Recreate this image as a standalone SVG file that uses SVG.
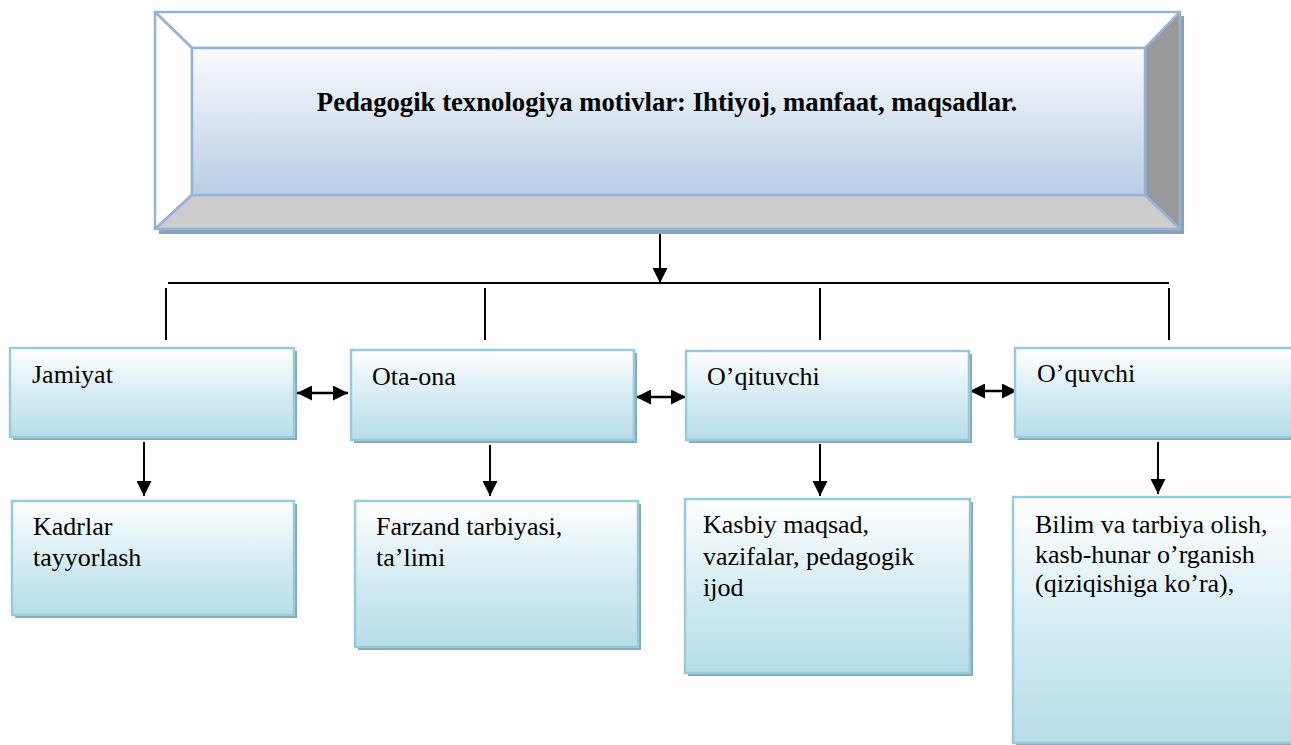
<svg xmlns="http://www.w3.org/2000/svg" width="1291" height="745" viewBox="0 0 1291 745">
<style>
.box{fill:url(#gb);stroke:#93cddd;stroke-width:2.5}
.sh{fill:#8fa3ad}
.t{font-family:"Liberation Serif","Times New Roman",serif;font-size:26px;fill:#000}
.title{font-family:"Liberation Serif","Times New Roman",serif;font-size:26.7px;font-weight:bold;fill:#000}
.ln{stroke:#000;stroke-width:2;fill:none}
.dbl{stroke:#000;stroke-width:2.6;fill:none}
.bev{stroke:#95b3d7;stroke-width:2.5;stroke-linejoin:round}
</style>
<defs>
<linearGradient id="gb" x1="0" y1="0" x2="0" y2="1">
<stop offset="0" stop-color="#ffffff"/>
<stop offset="0.55" stop-color="#d3ebf1"/>
<stop offset="1" stop-color="#b7dde8"/>
</linearGradient>
<linearGradient id="gt" x1="0" y1="0" x2="0" y2="1">
<stop offset="0" stop-color="#fafbfd"/>
<stop offset="1" stop-color="#b9cde5"/>
</linearGradient>
<marker id="ah" viewBox="0 0 10 10" refX="10" refY="5" markerWidth="15" markerHeight="15" markerUnits="userSpaceOnUse" orient="auto-start-reverse">
<path d="M0,0 L10,5 L0,10 z" fill="#000"/>
</marker>
<marker id="ah2" viewBox="0 0 10 10" refX="10" refY="5" markerWidth="15" markerHeight="15" markerUnits="userSpaceOnUse" orient="auto-start-reverse">
<path d="M0,0 L10,5 L0,10 z" fill="#000"/>
</marker>
</defs>
<rect width="1291" height="745" fill="#fff"/>

<g id="title-node">
<rect x="159" y="16" width="1025" height="218" fill="#8d9fb3"/>
<polygon class="bev" points="155,12 1180,12 1145,48 192,48" fill="#fff"/>
<polygon class="bev" points="155,12 192,48 192,195 155,229" fill="#fff"/>
<polygon class="bev" points="1180,12 1180,229 1145,195 1145,48" fill="#999"/>
<polygon class="bev" points="155,229 1180,229 1145,195 192,195" fill="#ccc"/>
<rect class="bev" x="192" y="48" width="953" height="147" fill="url(#gt)"/>
<text class="title" x="667" y="111" text-anchor="middle">Pedagogik texnologiya motivlar: Ihtiyoj, manfaat, maqsadlar.</text>
</g>

<g id="connectors">
<line class="ln" x1="660" y1="234" x2="660" y2="283" marker-end="url(#ah)"/>
<line class="ln" x1="168" y1="283" x2="1169" y2="283"/>
<line class="ln" x1="166" y1="288" x2="166" y2="340"/>
<line class="ln" x1="485" y1="288" x2="485" y2="340"/>
<line class="ln" x1="820" y1="288" x2="820" y2="340"/>
<line class="ln" x1="1169" y1="288" x2="1169" y2="340"/>
<line class="dbl" x1="297" y1="393" x2="348" y2="393" marker-start="url(#ah2)" marker-end="url(#ah2)"/>
<line class="dbl" x1="636" y1="397" x2="686" y2="397" marker-start="url(#ah2)" marker-end="url(#ah2)"/>
<line class="dbl" x1="970" y1="391" x2="1017" y2="391" marker-start="url(#ah2)" marker-end="url(#ah2)"/>
<line class="ln" x1="144" y1="442" x2="144" y2="496" marker-end="url(#ah)"/>
<line class="ln" x1="490" y1="445" x2="490" y2="496" marker-end="url(#ah)"/>
<line class="ln" x1="820" y1="444" x2="820" y2="496" marker-end="url(#ah)"/>
<line class="ln" x1="1158" y1="442" x2="1158" y2="494" marker-end="url(#ah)"/>
</g>

<g id="jamiyat">
<rect class="sh" x="13" y="351" width="284" height="89"/>
<rect class="box" x="10" y="348" width="284" height="89"/>
<text class="t" x="32" y="383">Jamiyat</text>
</g>
<g id="ota-ona">
<rect class="sh" x="354" y="353" width="283" height="90"/>
<rect class="box" x="351" y="350" width="283" height="90"/>
<text class="t" x="372" y="385">Ota-ona</text>
</g>
<g id="oqituvchi">
<rect class="sh" x="689" y="354" width="283" height="89"/>
<rect class="box" x="686" y="351" width="283" height="89"/>
<text class="t" x="707" y="385">O’qituvchi</text>
</g>
<g id="oquvchi">
<rect class="sh" x="1018" y="351" width="290" height="89"/>
<rect class="box" x="1015" y="348" width="290" height="89"/>
<text class="t" x="1037" y="382">O’quvchi</text>
</g>

<g id="kadrlar">
<rect class="sh" x="15" y="504" width="282" height="114"/>
<rect class="box" x="12" y="501" width="282" height="114"/>
<text class="t" x="33" y="535">Kadrlar</text>
<text class="t" x="33" y="566">tayyorlash</text>
</g>
<g id="farzand">
<rect class="sh" x="358" y="504" width="283" height="146"/>
<rect class="box" x="355" y="501" width="283" height="146"/>
<text class="t" x="376" y="535">Farzand tarbiyasi,</text>
<text class="t" x="376" y="566">ta’limi</text>
</g>
<g id="kasbiy">
<rect class="sh" x="688" y="502" width="285" height="174"/>
<rect class="box" x="685" y="499" width="285" height="174"/>
<text class="t" x="703" y="533">Kasbiy maqsad,</text>
<text class="t" x="703" y="565">vazifalar, pedagogik</text>
<text class="t" x="703" y="596">ijod</text>
</g>
<g id="bilim">
<rect class="sh" x="1016" y="500" width="290" height="246"/>
<rect class="box" x="1013" y="497" width="290" height="246"/>
<text class="t" x="1035" y="533">Bilim va tarbiya olish,</text>
<text class="t" x="1035" y="563">kasb-hunar o’rganish</text>
<text class="t" x="1035" y="592">(qiziqishiga ko’ra),</text>
</g>
</svg>
